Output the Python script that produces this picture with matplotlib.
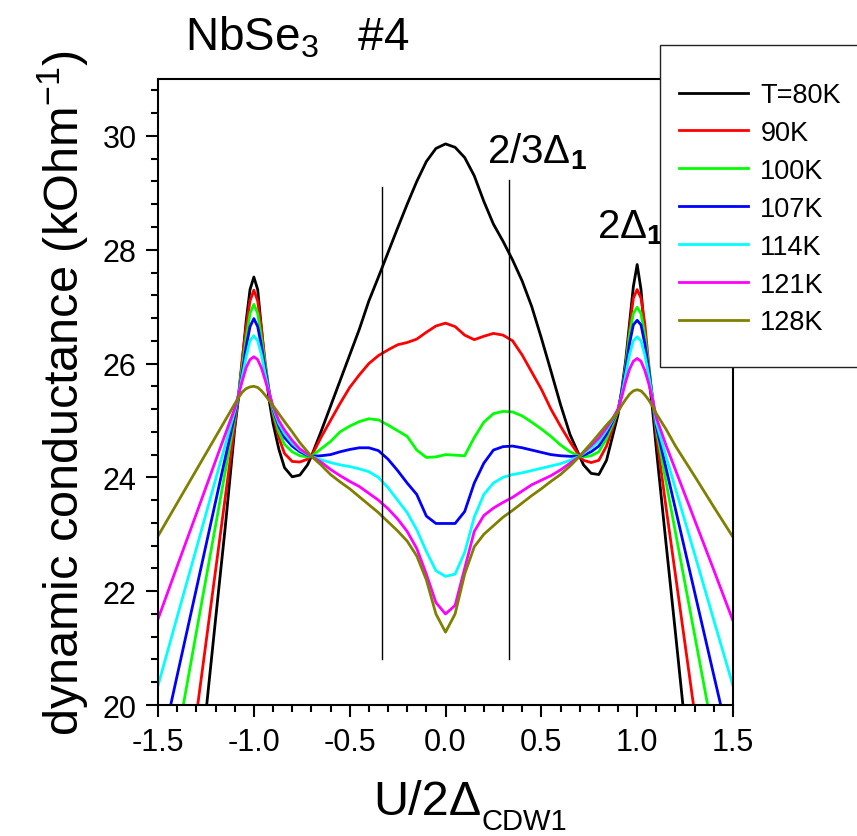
import matplotlib
matplotlib.use("agg")
import matplotlib.pyplot as plt
from matplotlib.patches import Rectangle
from matplotlib.ticker import MultipleLocator, FixedLocator

plt.rcParams["font.family"] = ["Liberation Sans", "DejaVu Sans"]
plt.rcParams["mathtext.fontset"] = "custom"
plt.rcParams["mathtext.rm"] = "Liberation Sans"
plt.rcParams["mathtext.it"] = "Liberation Sans:italic"
plt.rcParams["mathtext.bf"] = "Liberation Sans:bold"
plt.rcParams["axes.unicode_minus"] = False

# bias voltage normalised to 2*Delta_CDW1
u = [-1.5, -1.4, -1.3, -1.2, -1.15, -1.1,
     -1.08, -1.06, -1.04, -1.02, -1.0, -0.98, -0.96, -0.94, -0.92, -0.9,
     -0.87, -0.84, -0.8, -0.76, -0.72, -0.7,
     -0.65, -0.6, -0.55, -0.5, -0.45, -0.4, -0.35, -0.3, -0.25, -0.2, -0.15, -0.1, -0.05,
     0.0, 0.05, 0.1, 0.15, 0.2, 0.25, 0.3, 0.35, 0.4, 0.45, 0.5, 0.55, 0.6, 0.65,
     0.7, 0.72, 0.76, 0.8, 0.84, 0.87,
     0.9, 0.92, 0.94, 0.96, 0.98, 1.0, 1.02, 1.04, 1.06, 1.08,
     1.1, 1.15, 1.2, 1.3, 1.4, 1.5]

# dynamic conductance, kOhm^-1
g80 = [11.7, 15.0, 18.25, 21.5, 23.1, 24.85,
       25.4, 26.05, 26.75, 27.3, 27.52, 27.3, 26.6, 25.9, 25.35, 24.95,
       24.5, 24.17, 24.01, 24.04, 24.22, 24.37,
       24.8, 25.25, 25.7, 26.15, 26.6, 27.1, 27.52, 27.95, 28.38, 28.8, 29.2, 29.55, 29.78,
       29.86, 29.8, 29.62, 29.3, 28.85, 28.45, 28.15, 27.82, 27.45, 27.0, 26.45, 25.87, 25.28, 24.75,
       24.37, 24.22, 24.07, 24.05, 24.3, 24.7,
       25.1, 25.55, 26.05, 26.7, 27.35, 27.74, 27.3, 26.5, 25.8, 25.2,
       24.5, 22.86, 21.26, 18.0, 14.8, 11.6]

g90 = [14.74, 17.28, 19.82, 22.36, 23.63, 24.9,
       25.45, 26.1, 26.65, 27.1, 27.29, 27.1, 26.6, 26.0, 25.5, 25.1,
       24.7, 24.42, 24.28, 24.27, 24.32, 24.37,
       24.7, 25.0, 25.3, 25.58, 25.8, 26.0, 26.14, 26.24, 26.33, 26.37, 26.43, 26.55, 26.66,
       26.71, 26.65, 26.5, 26.42, 26.48, 26.53, 26.5, 26.4, 26.15, 25.85, 25.55, 25.2, 24.9, 24.62,
       24.37, 24.3, 24.26, 24.3, 24.55, 24.85,
       25.17, 25.5, 25.95, 26.6, 27.15, 27.3, 27.15, 26.7, 26.0, 25.35,
       24.75, 23.49, 22.28, 19.85, 17.4, 15.0]

g100 = [17.53, 19.4, 21.28, 23.15, 24.09, 25.03,
        25.45, 25.95, 26.45, 26.88, 27.04, 26.88, 26.45, 25.95, 25.5, 25.15,
        24.8, 24.58, 24.45, 24.38, 24.36, 24.37,
        24.5, 24.63, 24.8, 24.9, 24.98, 25.03, 25.01, 24.92, 24.82, 24.72, 24.48, 24.35, 24.36,
        24.4, 24.39, 24.38, 24.7, 24.97, 25.12, 25.16, 25.15, 25.08, 24.97, 24.85, 24.72, 24.57, 24.45,
        24.37, 24.36, 24.38, 24.45, 24.68, 24.92,
        25.17, 25.5, 25.95, 26.5, 26.88, 26.99, 26.88, 26.5, 25.95, 25.4,
        24.85, 23.93, 23.03, 21.23, 19.42, 17.6]

g107 = [18.99, 20.52, 22.04, 23.57, 24.33, 25.09,
        25.45, 25.85, 26.3, 26.65, 26.79, 26.65, 26.3, 25.88, 25.5, 25.2,
        24.9, 24.7, 24.55, 24.45, 24.39, 24.37,
        24.38, 24.4, 24.45, 24.49, 24.52, 24.52, 24.47, 24.32, 24.12, 23.9, 23.7, 23.32, 23.19,
        23.19, 23.19, 23.4, 23.9, 24.25, 24.48, 24.54, 24.55, 24.52, 24.48, 24.44, 24.4, 24.38, 24.37,
        24.37, 24.39, 24.45, 24.55, 24.76, 24.97,
        25.18, 25.5, 25.9, 26.35, 26.68, 26.76, 26.68, 26.35, 25.9, 25.4,
        24.9, 24.17, 23.44, 21.98, 20.52, 19.07]

g114 = [20.34, 21.55, 22.75, 23.96, 24.56, 25.16,
        25.45, 25.78, 26.12, 26.4, 26.49, 26.4, 26.15, 25.8, 25.48, 25.22,
        24.95, 24.77, 24.6, 24.48, 24.4, 24.37,
        24.31, 24.26, 24.22, 24.19, 24.15, 24.1, 24.0, 23.82, 23.6, 23.38, 23.08, 22.7, 22.36,
        22.26, 22.3, 22.68, 23.3, 23.7, 23.9, 24.0, 24.05, 24.08, 24.12, 24.16, 24.2, 24.24, 24.3,
        24.37, 24.42, 24.52, 24.63, 24.83, 25.0,
        25.18, 25.45, 25.8, 26.15, 26.4, 26.47, 26.4, 26.15, 25.8, 25.4,
        24.96, 24.38, 23.8, 22.65, 21.49, 20.34]

g121 = [21.51, 22.44, 23.36, 24.29, 24.75, 25.21,
        25.45, 25.7, 25.93, 26.07, 26.12, 26.07, 25.92, 25.7, 25.47, 25.25,
        25.0, 24.83, 24.65, 24.5, 24.41, 24.37,
        24.27, 24.14, 24.03, 23.93, 23.84, 23.72, 23.6, 23.45, 23.27, 23.05, 22.75, 22.3, 21.8,
        21.6, 21.75, 22.4, 23.05, 23.33, 23.46, 23.56, 23.65, 23.76, 23.87, 23.95, 24.03, 24.13, 24.25,
        24.37, 24.44, 24.56, 24.69, 24.87, 25.02,
        25.2, 25.42, 25.68, 25.9, 26.04, 26.09, 26.04, 25.88, 25.65, 25.38,
        25.05, 24.57, 24.13, 23.25, 22.37, 21.48]

g128 = [22.97, 23.55, 24.13, 24.71, 25.0, 25.29,
        25.4, 25.5, 25.56, 25.59, 25.6, 25.58, 25.52, 25.44, 25.35, 25.26,
        25.12, 24.98, 24.8, 24.61, 24.45, 24.37,
        24.22, 24.05, 23.92, 23.8, 23.66, 23.52, 23.38, 23.22, 23.06, 22.88, 22.62, 22.2, 21.6,
        21.28, 21.6, 22.3, 22.78, 23.0, 23.15, 23.3, 23.42, 23.55, 23.68, 23.8, 23.93, 24.05, 24.2,
        24.37, 24.45, 24.6, 24.76, 24.92, 25.03,
        25.15, 25.27, 25.37, 25.46, 25.52, 25.54, 25.52, 25.45, 25.36, 25.25,
        25.12, 24.85, 24.55, 24.02, 23.48, 22.95]

labels = ["T=80K", "90K", "100K", "107K", "114K", "121K", "128K"]
colors = ["#000000", "#ff0000", "#00ff00", "#0000ff", "#00ffff", "#ff00ff", "#808000"]
series = [g80, g90, g100, g107, g114, g121, g128]

# positions of the 2/3 Delta_1 markers and their vertical extent
marker_u = [-1 / 3, 1 / 3]
marker_lo = [20.8, 20.8]
marker_hi = [29.1, 29.22]

fig = plt.figure(figsize=(8.57, 8.37), dpi=100)
ax = fig.add_axes([0.1844, 0.1565, 0.6709, 0.7479])

for g, c, lab in zip(series, colors, labels):
    ax.plot(u, g, color=c, lw=2.0, label=lab, solid_joinstyle="round")

for xm, lo, hi in zip(marker_u, marker_lo, marker_hi):
    ax.plot([xm, xm], [lo, hi], color="black", lw=1.0)

ax.set_xlim(-1.5, 1.5)
ax.set_ylim(20, 31)
ax.xaxis.set_major_locator(FixedLocator([-1.5, -1.0, -0.5, 0.0, 0.5, 1.0, 1.5]))
ax.xaxis.set_minor_locator(MultipleLocator(0.1))
ax.yaxis.set_major_locator(FixedLocator([20, 22, 24, 26, 28, 30]))
ax.yaxis.set_minor_locator(MultipleLocator(0.4))
ax.set_xticklabels(["-1.5", "-1.0", "-0.5", "0.0", "0.5", "1.0", "1.5"])
ax.tick_params(which="major", direction="out", length=8.5, width=1.5,
               labelsize=22, pad=7)
ax.tick_params(which="minor", direction="out", length=5, width=1.5)
ax.tick_params(top=False, right=False)
for sp in ax.spines.values():
    sp.set_linewidth(1.5)

ax.set_ylabel("dynamic conductance (kOhm$^{\\mathrm{-1}}$)", fontsize=35, labelpad=8)

# x label with a small, low subscript
xl = fig.text(373 / 857, 1 - 815 / 837, "U/2\u0394", fontsize=35,
              ha="left", va="baseline")
fig.canvas.draw()
bb = xl.get_window_extent()
fig.text(bb.x1 / fig.bbox.width, 1 - 830 / 837, "CDW1", fontsize=21,
         ha="left", va="baseline")

fig.text(185 / 857, 1 - 50 / 837, "NbSe$_{\\mathrm{3}}$   #4", fontsize=33,
         ha="left", va="baseline")
ax.text(0.215, 29.54, "2/3\u0394$_{\\mathbf{1}}$", fontsize=29, ha="left", va="baseline")
ax.text(0.79, 28.21, "2\u0394$_{\\mathbf{1}}$", fontsize=29, ha="left", va="baseline")

# legend box running off the right edge of the figure
box = Rectangle((660 / 857, 1 - 368 / 837), 0.4, (368 - 46) / 837,
                transform=fig.transFigure, facecolor="white",
                edgecolor="#222222", lw=1.0, zorder=2, clip_on=False)
fig.add_artist(box)
handles, names = ax.get_legend_handles_labels()
leg = fig.legend(handles, names, loc="upper left",
                 bbox_to_anchor=(679 / 857, 1 - 83 / 837),
                 bbox_transform=fig.transFigure, frameon=False,
                 fontsize=19.5, handlelength=2.55, handletextpad=0.45,
                 labelspacing=0.44, borderpad=0, borderaxespad=0)
leg.set_zorder(5)
for line in leg.get_lines():
    line.set_linewidth(2.0)

fig.savefig("out.png", dpi=100)
